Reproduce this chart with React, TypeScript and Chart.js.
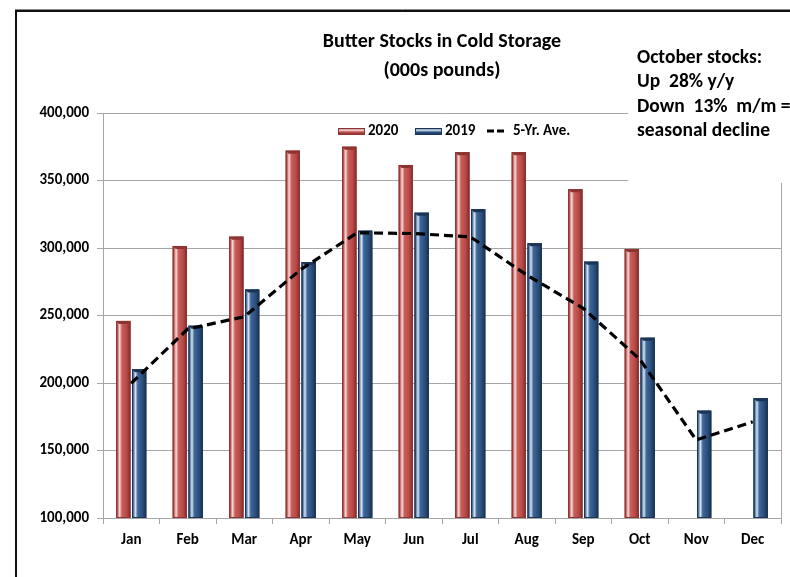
import React, { useEffect, useRef } from 'react';
import { Chart, registerables } from 'chart.js';

Chart.register(...registerables);

const months = ['Jan', 'Feb', 'Mar', 'Apr', 'May', 'Jun', 'Jul', 'Aug', 'Sep', 'Oct', 'Nov', 'Dec'];
const stocks2020 = [246000, 301500, 308400, 372100, 375000, 361500, 370900, 370900, 343500, 299300, null, null];
const stocks2019 = [210200, 242400, 269200, 289600, 312800, 326100, 328700, 303500, 289900, 233500, 179500, 188700];
const fiveYrAvg = [199800, 240000, 249100, 284000, 311300, 310700, 308300, 280000, 255300, 217600, 157800, 171300];
const yMin = 100000;
const yMax = 400000;
const yStep = 50000;
const legendLabels = ['2020', '2019', '5-Yr. Ave.'];
const titleLines = ['Butter Stocks in Cold Storage', '(000s pounds)'];
const noteLines = ['October stocks:', 'Up  28% y/y', 'Down  13%  m/m =', 'seasonal decline'];

const FONT = "Carlito, Lato, 'Liberation Sans', sans-serif";
const GRID = '#A6A6A6';
const RED = '#C0504D';
const RED_DARK = '#8C3431';
const BLUE = '#2F5585';
const BLUE_DARK = '#1C3555';
const RED_STOPS: [number, string][] = [[0, '#8A3230'], [0.1, '#C7615E'], [0.24, '#F7DCDB'], [0.4, '#C95F5C'], [0.72, '#B94A47'], [1, '#7C2D2B']];
const BLUE_STOPS: [number, string][] = [[0, '#1B3453'], [0.1, '#4F77A6'], [0.24, '#D5E4F4'], [0.4, '#3F6797'], [0.72, '#2C5080'], [1, '#19304D']];

function makeGrad(ctx: CanvasRenderingContext2D, x0: number, x1: number, stops: [number, string][]) {
  const g = ctx.createLinearGradient(x0, 0, x1, 0);
  stops.forEach(([p, c]) => g.addColorStop(p, c));
  return g;
}

const decor = {
  id: 'decor',
  beforeDatasetsDraw(chart: any) {
    const { ctx, chartArea } = chart;
    ctx.save();
    ctx.fillStyle = '#ffffff';
    ctx.fillRect(628, 20, 200, 162);
    ctx.strokeStyle = GRID;
    ctx.lineWidth = 1;
    ctx.beginPath();
    ctx.moveTo(Math.round(chartArea.right) + 0.5, 183);
    ctx.lineTo(Math.round(chartArea.right) + 0.5, chartArea.bottom);
    ctx.stroke();
    ctx.restore();
  },
  afterDatasetDraw(chart: any, args: any) {
    const meta = args.meta;
    if (meta.type !== 'bar') return;
    const isRed = meta.index === 1;
    const stops = isRed ? RED_STOPS : BLUE_STOPS;
    const dark = isRed ? RED_DARK : BLUE_DARK;
    const values = chart.data.datasets[meta.index].data;
    const { ctx, chartArea } = chart;
    ctx.save();
    ctx.beginPath();
    ctx.rect(chartArea.left, chartArea.top, chartArea.right - chartArea.left, chartArea.bottom - chartArea.top);
    ctx.clip();
    meta.data.forEach((el: any, i: number) => {
      if (values[i] == null) return;
      const p = el.getProps(['x', 'y', 'base', 'width'], true);
      if (p.y == null || isNaN(p.y)) return;
      const left = p.x - p.width / 2;
      const right = p.x + p.width / 2;
      const top = p.y;
      const bottom = Math.min(p.base, chartArea.bottom);
      ctx.fillStyle = makeGrad(ctx, left, right, stops);
      ctx.fillRect(left, top, right - left, bottom - top);
      ctx.fillStyle = dark;
      ctx.beginPath();
      ctx.moveTo(left, top);
      ctx.lineTo(right, top);
      ctx.lineTo(right - 3, top + 3);
      ctx.lineTo(left + 3, top + 3);
      ctx.closePath();
      ctx.fill();
      ctx.strokeStyle = dark;
      ctx.lineWidth = 1;
      ctx.strokeRect(left + 0.5, top + 0.5, right - left - 1, bottom - top - 1);
    });
    ctx.restore();
  },
  afterDraw(chart: any) {
    const { ctx } = chart;
    ctx.save();
    ctx.fillStyle = '#000';
    ctx.textBaseline = 'middle';
    ctx.textAlign = 'center';
    ctx.font = `bold 20px ${FONT}`;
    ctx.fillText(titleLines[0], 442, 42);
    ctx.fillText(titleLines[1], 442, 71);
    ctx.textAlign = 'left';
    ctx.font = `bold 19.5px ${FONT}`;
    const noteY = [58, 82, 107, 131];
    noteLines.forEach((t, i) => ctx.fillText(t, 637, noteY[i]));
    ctx.font = `bold 15px ${FONT}`;
    const ly = 131;
    const sw = (x: number, stopsC: [number, string][], dark: string) => {
      const g = ctx.createLinearGradient(0, ly - 3, 0, ly + 4);
      g.addColorStop(0, stopsC[0][1]);
      g.addColorStop(0.3, stopsC[2][1]);
      g.addColorStop(0.6, stopsC[4][1]);
      g.addColorStop(1, stopsC[5][1]);
      ctx.fillStyle = g;
      ctx.fillRect(x, ly - 3, 27, 7);
      ctx.strokeStyle = dark;
      ctx.lineWidth = 1;
      ctx.strokeRect(x + 0.5, ly - 2.5, 26, 6);
    };
    sw(338, RED_STOPS, RED_DARK);
    ctx.fillStyle = '#000';
    ctx.fillText(legendLabels[0], 368, ly);
    sw(415, BLUE_STOPS, BLUE_DARK);
    ctx.fillStyle = '#000';
    ctx.fillText(legendLabels[1], 445, ly);
    ctx.strokeStyle = '#000';
    ctx.lineWidth = 3;
    ctx.setLineDash([7, 3]);
    ctx.beginPath();
    ctx.moveTo(487, ly);
    ctx.lineTo(504, ly);
    ctx.stroke();
    ctx.setLineDash([]);
    ctx.fillText(legendLabels[2], 513, ly);
    ctx.strokeStyle = '#8a8a8a';
    ctx.lineWidth = 1;
    ctx.beginPath();
    ctx.moveTo(15, 9.5);
    ctx.lineTo(790, 9.5);
    ctx.stroke();
    ctx.strokeStyle = '#111';
    ctx.lineWidth = 2;
    ctx.beginPath();
    ctx.moveTo(16, 577);
    ctx.lineTo(16, 11);
    ctx.lineTo(790, 11);
    ctx.stroke();
    ctx.restore();
  },
};

export default function App() {
  const ref = useRef<HTMLCanvasElement | null>(null);
  useEffect(() => {
    if (!ref.current) return;
    const chart = new Chart(ref.current, {
      type: 'bar',
      data: {
        labels: months,
        datasets: [
          {
            type: 'line',
            label: legendLabels[2],
            data: fiveYrAvg,
            borderColor: '#000',
            borderWidth: 3.2,
            borderDash: [9, 5],
            pointRadius: 0,
            fill: false,
            tension: 0,
            order: 0,
          } as any,
          {
            type: 'bar',
            label: legendLabels[0],
            data: stocks2020,
            backgroundColor: RED,
            borderColor: RED_DARK,
            borderWidth: 0,
            barPercentage: 0.9,
            categoryPercentage: 0.56,
            order: 1,
          },
          {
            type: 'bar',
            label: legendLabels[1],
            data: stocks2019,
            backgroundColor: BLUE,
            borderColor: BLUE_DARK,
            borderWidth: 0,
            barPercentage: 0.9,
            categoryPercentage: 0.56,
            order: 1,
          },
        ],
      },
      options: {
        responsive: false,
        animation: false,
        devicePixelRatio: 1,
        layout: { padding: { top: 113, right: 9, left: 0, bottom: 0 } },
        plugins: {
          legend: { display: false },
          title: { display: false },
          tooltip: { enabled: false },
        },
        scales: {
          x: {
            grid: { drawOnChartArea: false, drawTicks: true, tickLength: 6, color: GRID, offset: true },
            border: { display: true, color: GRID },
            ticks: { color: '#000', font: { family: FONT, size: 15, weight: 'bold' }, padding: 7 },
            afterFit: (s: any) => { s.height = 59; },
          },
          y: {
            min: yMin,
            max: yMax,
            grid: { color: GRID, tickLength: 6 },
            border: { display: true, color: GRID },
            ticks: {
              stepSize: yStep,
              color: '#000',
              padding: 8,
              font: { family: FONT, size: 15, weight: 'bold' },
              callback: (v: any) => Number(v).toLocaleString('en-US'),
            },
            afterFit: (s: any) => { s.width = 103; },
          },
        },
      },
      plugins: [decor],
    } as any);
    return () => chart.destroy();
  }, []);
  return (
    <div style={{ position: 'fixed', left: 0, top: 0, width: 790, height: 577, background: '#fff' }}>
      <canvas ref={ref} width={790} height={577} style={{ display: 'block' }} />
    </div>
  );
}
